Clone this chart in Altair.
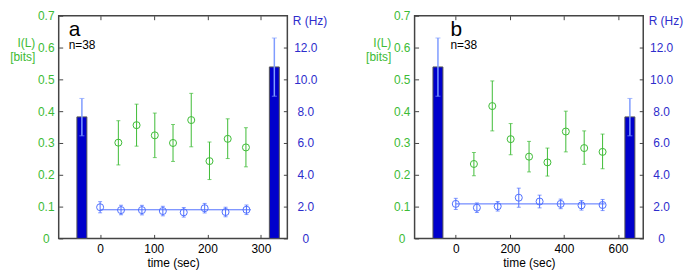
import altair as alt
import pandas as pd

# ---------------- data ----------------
# panel a
a_xdomain = [-68, 340]
a_xticks = [0, 100, 200, 300]
a_bar_t = [-34, 325]
a_bar_r = [7.64, 10.78]
a_bar_lo = [6.45, 8.94]
a_bar_hi = [8.80, 12.60]
a_I_t = [34, 68, 102, 136, 170, 204, 238, 272]
a_I = [0.301, 0.356, 0.324, 0.300, 0.372, 0.243, 0.313, 0.286]
a_I_lo = [0.231, 0.290, 0.254, 0.242, 0.288, 0.185, 0.251, 0.225]
a_I_hi = [0.370, 0.422, 0.394, 0.358, 0.456, 0.303, 0.376, 0.348]
a_R_t = [0, 39, 78, 117, 156, 195, 234, 273]
a_R = [1.96, 1.78, 1.78, 1.72, 1.64, 1.90, 1.66, 1.80]
a_R_err = [0.35, 0.30, 0.30, 0.30, 0.30, 0.30, 0.30, 0.30]
a_line_t = [0, 281]
a_line_R = [1.80, 1.80]

# panel b
b_xdomain = [-134, 675]
b_xticks = [0, 200, 400, 600]
b_bar_t = [-66, 644]
b_bar_r = [10.78, 7.64]
b_bar_lo = [8.94, 6.45]
b_bar_hi = [12.60, 8.80]
b_I_t = [67, 135, 203, 271, 339, 407, 475, 543]
b_I = [0.234, 0.416, 0.312, 0.257, 0.239, 0.336, 0.284, 0.272]
b_I_lo = [0.197, 0.338, 0.263, 0.209, 0.196, 0.272, 0.233, 0.219]
b_I_hi = [0.270, 0.495, 0.361, 0.305, 0.284, 0.400, 0.338, 0.328]
b_R_t = [0, 78, 155, 233, 310, 388, 465, 543]
b_R = [2.17, 1.93, 2.02, 2.56, 2.32, 2.17, 2.08, 2.10]
b_R_err = [0.35, 0.30, 0.30, 0.60, 0.40, 0.30, 0.30, 0.35]
b_line_t = [0, 551]
b_line_R = [2.17, 2.17]

I_ticks = [0, 0.1, 0.2, 0.3, 0.4, 0.5, 0.6, 0.7]
R_ticks = [0, 2, 4, 6, 8, 10, 12]
I_domain = [0, 0.7]
R_domain = [0, 14]

# ---------------- style ----------------
GREEN = "#3dbb35"
BLUE_TXT = "#2d2dcc"
BLUE_PT = "#5070ff"
BLUE_ERR = "#7f9cff"
BAR = "#0000cc"
FRAME = "#444444"
FONT = "Liberation Sans"
W, H = 230, 224
TICK = 4


def panel(letter, letter_x, xdomain, xticks, bar_t, bar_r, bar_lo, bar_hi,
          I_t, I_v, I_lo, I_hi, R_t, R_v, R_err, line_t, line_R):
    xs = alt.Scale(domain=xdomain, nice=False, zero=False)
    ysI = alt.Scale(domain=I_domain, nice=False)
    ysR = alt.Scale(domain=R_domain, nice=False)

    x_bottom = alt.Axis(orient="bottom", values=xticks, offset=-TICK, tickSize=TICK,
                        tickColor=FRAME, domain=False, labelPadding=5, labelColor="black",
                        title="time (sec)", titleColor="black", titlePadding=3,
                        labelFlush=False)
    x_top = alt.Axis(orient="top", values=xticks, offset=-TICK, tickSize=TICK,
                     tickColor=FRAME, domain=False, labels=False, title=None)
    y_left = alt.Axis(orient="left", values=I_ticks, offset=-TICK, tickSize=TICK,
                      tickColor=FRAME, domain=False, labelPadding=13, labelAlign="center",
                      labelColor=GREEN,
                      labelExpr="datum.value == 0 ? '0' : format(datum.value, '.1f')",
                      title=["I(L)", "[bits]"], titleColor=GREEN, titleAngle=0,
                      titleAlign="right", titleBaseline="top", titleX=-28, titleY=22,
                      titleLineHeight=14)
    y_right = alt.Axis(orient="right", values=R_ticks, offset=-TICK, tickSize=TICK,
                       tickColor=FRAME, domain=False, labelPadding=18, labelAlign="center",
                       labelColor=BLUE_TXT,
                       labelExpr="datum.value == 0 ? '0' : format(datum.value, '.1f')",
                       title="R (Hz)", titleColor=BLUE_TXT, titleAngle=0,
                       titleAlign="left", titleBaseline="middle", titleX=9, titleY=5)

    gdf = pd.DataFrame({"t": I_t, "v": I_v, "lo": I_lo, "hi": I_hi})
    bdf = pd.DataFrame({"t": bar_t, "r": bar_r, "lo": bar_lo, "hi": bar_hi})
    rdf = pd.DataFrame({"t": R_t, "r": R_v, "e": R_err})
    ldf = pd.DataFrame({"t": line_t, "r": line_R})

    def gx():
        return alt.X("t:Q", scale=xs, axis=x_bottom)

    def gy(f):
        return alt.Y(f, type="quantitative", scale=ysI, axis=y_left)

    def rx():
        return alt.X("t:Q", scale=xs, axis=x_top)

    def ry(f):
        return alt.Y(f, type="quantitative", scale=ysR, axis=y_right)

    # ---- information layer (left axis) ----
    g_err = alt.Chart(gdf).mark_rule(color=GREEN, strokeWidth=1).encode(
        x=gx(), y=gy("lo"), y2="hi:Q")
    g_cap_lo = alt.Chart(gdf).mark_tick(color=GREEN, orient="horizontal", size=4,
                                        thickness=1).encode(x=gx(), y=gy("lo"))
    g_cap_hi = alt.Chart(gdf).mark_tick(color=GREEN, orient="horizontal", size=4,
                                        thickness=1).encode(x=gx(), y=gy("hi"))
    g_pt = alt.Chart(gdf).mark_point(shape="circle", filled=False, color=GREEN,
                                     size=50, strokeWidth=1, opacity=1).encode(
        x=gx(), y=gy("v"))
    green = alt.layer(g_err, g_cap_lo, g_cap_hi, g_pt)

    # ---- rate layer (right axis) ----
    bars = alt.Chart(bdf).mark_bar(color=BAR, size=10, stroke="#555555",
                                   strokeWidth=1, orient="vertical").encode(
        x=rx(), y=ry("r"))
    bar_err = alt.Chart(bdf).mark_rule(color=BLUE_ERR, strokeWidth=1.5).encode(
        x=rx(), y=ry("lo"), y2="hi:Q")
    bar_cap_lo = alt.Chart(bdf).mark_tick(color=BLUE_ERR, orient="horizontal", size=5,
                                          thickness=1).encode(x=rx(), y=ry("lo"))
    bar_cap_hi = alt.Chart(bdf).mark_tick(color=BLUE_ERR, orient="horizontal", size=5,
                                          thickness=1).encode(x=rx(), y=ry("hi"))
    line = alt.Chart(ldf).mark_line(color=BLUE_PT, strokeWidth=1).encode(
        x=rx(), y=ry("r"))
    r_err = alt.Chart(rdf).transform_calculate(
        lo="datum.r - datum.e", hi="datum.r + datum.e").mark_rule(
        color=BLUE_PT, strokeWidth=1).encode(x=rx(), y=ry("lo"), y2="hi:Q")
    r_cap_lo = alt.Chart(rdf).transform_calculate(lo="datum.r - datum.e").mark_tick(
        color=BLUE_PT, orient="horizontal", size=4, thickness=1).encode(
        x=rx(), y=ry("lo"))
    r_cap_hi = alt.Chart(rdf).transform_calculate(hi="datum.r + datum.e").mark_tick(
        color=BLUE_PT, orient="horizontal", size=4, thickness=1).encode(
        x=rx(), y=ry("hi"))
    r_pt = alt.Chart(rdf).mark_point(shape="circle", filled=False, color=BLUE_PT,
                                     size=50, strokeWidth=1, opacity=1).encode(
        x=rx(), y=ry("r"))
    rate = alt.layer(bars, bar_err, bar_cap_lo, bar_cap_hi, line, r_err, r_cap_lo,
                     r_cap_hi, r_pt)

    one = pd.DataFrame({"k": [0]})
    t_letter = alt.Chart(one).mark_text(text=letter, fontSize=21, font=FONT,
                                        align="left", baseline="alphabetic",
                                        color="black").encode(
        x=alt.value(letter_x), y=alt.value(20))
    t_n = alt.Chart(one).mark_text(text="n=38", fontSize=12, font=FONT, align="left",
                                   baseline="alphabetic", color="black").encode(
        x=alt.value(letter_x), y=alt.value(33))

    return alt.layer(green, rate, t_letter, t_n).resolve_scale(
        y="independent").resolve_axis(x="independent").properties(width=W, height=H)


pa = panel("a", 10, a_xdomain, a_xticks, a_bar_t, a_bar_r, a_bar_lo, a_bar_hi,
           a_I_t, a_I, a_I_lo, a_I_hi, a_R_t, a_R, a_R_err, a_line_t, a_line_R)
pb = panel("b", 36, b_xdomain, b_xticks, b_bar_t, b_bar_r, b_bar_lo, b_bar_hi,
           b_I_t, b_I, b_I_lo, b_I_hi, b_R_t, b_R, b_R_err, b_line_t, b_line_R)

chart = alt.hconcat(pa, pb, spacing=36).configure_view(
    stroke=FRAME, strokeWidth=1.5).configure_axis(
    labelFont=FONT, titleFont=FONT, labelFontSize=12, titleFontSize=12,
    titleFontWeight="normal", grid=False).properties(padding=0)

chart.save("out.html", embed_options={"renderer": "svg", "actions": False})
